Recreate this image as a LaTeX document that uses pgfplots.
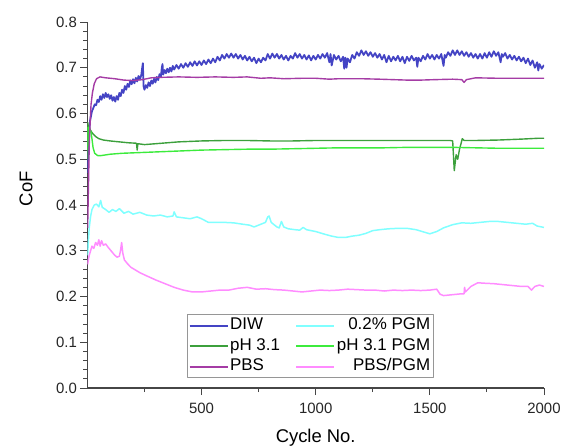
\documentclass[border=0pt]{standalone}
\usepackage{fontspec}
\setmainfont{Liberation Sans}
\usepackage{pgfplots}
\pgfplotsset{compat=1.18}

\definecolor{cdiw}{RGB}{68,68,196}
\definecolor{cph}{RGB}{60,160,60}
\definecolor{cpbs}{RGB}{165,60,165}
\definecolor{cpgm}{RGB}{128,255,255}
\definecolor{cphpgm}{RGB}{60,235,60}
\definecolor{cpbspgm}{RGB}{255,140,255}
\definecolor{axgray}{RGB}{70,70,70}
\definecolor{leggray}{RGB}{150,150,150}

% width of the widest right-hand legend text, to right-align that column
\newlength\rcw
\settowidth{\rcw}{\fontsize{17}{20}\selectfont pH 3.1 PGM}
\newcommand\rtext[1]{\makebox[\rcw][r]{#1}}

\begin{document}
\begin{tikzpicture}
\begin{axis}[
  name=ax,
  scale only axis,
  width=456.6bp, height=366bp,
  xmin=0, xmax=2000, ymin=0, ymax=0.8,
  axis lines*=left,
  axis line style={draw=axgray, line width=1.1pt},
  xtick={500,1000,1500,2000},
  minor xtick={250,750,1250,1750},
  ytick={0,0.1,0.2,0.3,0.4,0.5,0.6,0.7,0.8},
  minor y tick num=4,
  tick align=outside,
  major tick length=7bp,
  minor tick length=4bp,
  every tick/.style={draw=axgray, line width=0.9pt},
  /pgf/number format/assume math mode=true,
  /pgf/number format/1000 sep={},
  yticklabel style={/pgf/number format/fixed, /pgf/number format/fixed zerofill, /pgf/number format/precision=1},
  tick label style={font=\fontsize{15}{18}\selectfont, text=black!85},
  xticklabel style={yshift=-5bp},
  xlabel={Cycle No.},
  ylabel={CoF},
  every axis x label/.style={at={(axis description cs:0.5,-0.1495)}, anchor=base, font=\fontsize{18.5}{22}\selectfont},
  every axis y label/.style={at={(axis description cs:-0.1345,0.544)}, anchor=center, rotate=90, font=\fontsize{18.5}{22}\selectfont},
  legend columns=2,
  legend cell align=left,
  legend image code/.code={\draw[#1, line width=2pt] (0bp,0bp) -- (38bp,0bp);},
  legend style={
    at={(0.2175,0.028)}, anchor=south west,
    draw=leggray, line width=0.8pt, inner sep=1.5bp,
    font=\fontsize{17}{20}\selectfont,
    nodes={inner sep=1.5bp, text height=12bp, text depth=3.5bp},
    row sep=2bp,
    /tikz/every even column/.append style={column sep=14bp},
  },
  line join=round,
]
% DIW
\addplot[cdiw, line width=1.8pt] coordinates {
(2,0.47)(5,0.54)(8,0.565)(12,0.585)(16,0.595)(20,0.605)(26,0.612)(32,0.62)(38,0.618)(44,0.63)(50,0.625)(56,0.638)(62,0.63)(68,0.642)(74,0.634)(80,0.645)(86,0.636)(92,0.642)(98,0.632)(104,0.64)(110,0.628)(116,0.636)(122,0.626)(128,0.638)(134,0.63)(140,0.645)(146,0.638)(152,0.652)(158,0.645)(164,0.66)(170,0.652)(176,0.665)(182,0.658)(188,0.672)(194,0.664)(200,0.675)(206,0.666)(212,0.678)(218,0.67)(224,0.682)(230,0.674)(236,0.684)(240,0.70)(243,0.71)(246,0.66)(250,0.652)(256,0.662)(262,0.656)(268,0.668)(274,0.66)(280,0.672)(286,0.665)(292,0.676)(298,0.668)(304,0.68)(310,0.673)(316,0.686)(322,0.68)(326,0.70)(329,0.708)(332,0.685)(338,0.695)(344,0.688)(350,0.698)(356,0.69)(362,0.70)(368,0.692)(374,0.704)(380,0.696)(390,0.706)(400,0.698)(410,0.708)(420,0.70)(430,0.71)(440,0.702)(450,0.712)(460,0.704)(470,0.714)(480,0.705)(490,0.714)(500,0.706)(510,0.716)(520,0.708)(530,0.718)(540,0.71)(550,0.72)(560,0.712)(570,0.724)(580,0.716)(590,0.728)(600,0.72)(610,0.73)(620,0.722)(630,0.731)(640,0.722)(650,0.73)(660,0.72)(670,0.728)(680,0.718)(690,0.726)(700,0.716)(710,0.724)(720,0.714)(730,0.722)(740,0.71)(750,0.72)(760,0.712)(770,0.722)(780,0.716)(790,0.73)(800,0.72)(810,0.731)(820,0.722)(830,0.73)(840,0.72)(850,0.728)(860,0.718)(870,0.726)(880,0.716)(890,0.726)(900,0.72)(910,0.732)(920,0.722)(930,0.73)(940,0.72)(950,0.728)(960,0.718)(970,0.727)(980,0.716)(990,0.726)(1000,0.718)(1010,0.728)(1020,0.72)(1030,0.73)(1040,0.722)(1050,0.732)(1060,0.712)(1065,0.73)(1070,0.705)(1080,0.728)(1090,0.718)(1100,0.726)(1110,0.714)(1120,0.724)(1125,0.698)(1130,0.722)(1135,0.70)(1140,0.72)(1150,0.712)(1160,0.728)(1170,0.72)(1180,0.734)(1190,0.726)(1200,0.738)(1210,0.728)(1220,0.736)(1230,0.726)(1240,0.734)(1250,0.724)(1260,0.732)(1270,0.722)(1280,0.73)(1290,0.718)(1300,0.728)(1310,0.712)(1320,0.726)(1330,0.714)(1340,0.724)(1350,0.716)(1360,0.726)(1370,0.714)(1380,0.724)(1390,0.71)(1400,0.724)(1410,0.715)(1420,0.726)(1430,0.716)(1440,0.722)(1445,0.702)(1450,0.722)(1460,0.714)(1470,0.726)(1480,0.718)(1490,0.73)(1500,0.72)(1510,0.728)(1520,0.718)(1530,0.728)(1540,0.72)(1550,0.73)(1560,0.704)(1565,0.728)(1570,0.722)(1580,0.734)(1590,0.726)(1600,0.738)(1610,0.728)(1620,0.738)(1630,0.728)(1640,0.736)(1650,0.726)(1660,0.734)(1670,0.724)(1680,0.732)(1690,0.722)(1700,0.73)(1710,0.72)(1720,0.73)(1730,0.72)(1740,0.732)(1750,0.722)(1760,0.734)(1770,0.724)(1780,0.736)(1790,0.726)(1800,0.734)(1810,0.712)(1815,0.73)(1820,0.724)(1830,0.732)(1840,0.72)(1850,0.728)(1860,0.718)(1870,0.726)(1880,0.716)(1890,0.724)(1900,0.714)(1910,0.722)(1920,0.71)(1930,0.72)(1940,0.706)(1950,0.716)(1960,0.7)(1970,0.712)(1975,0.694)(1980,0.708)(1990,0.698)(2000,0.706)
};
\addlegendentry{DIW}
% 0.2% PGM
\addplot[cpgm, line width=1.5pt] coordinates {
(1,0.29)(4,0.32)(8,0.35)(14,0.375)(20,0.39)(30,0.40)(40,0.402)(50,0.396)(58,0.41)(65,0.395)(80,0.39)(95,0.384)(110,0.39)(125,0.386)(140,0.392)(160,0.382)(180,0.386)(200,0.38)(230,0.384)(260,0.378)(290,0.376)(320,0.378)(350,0.374)(375,0.376)(380,0.385)(390,0.374)(420,0.372)(450,0.37)(480,0.374)(500,0.37)(530,0.362)(560,0.362)(600,0.362)(640,0.361)(680,0.358)(710,0.356)(730,0.352)(750,0.356)(780,0.362)(790,0.374)(796,0.376)(805,0.362)(830,0.352)(840,0.35)(850,0.364)(860,0.352)(880,0.348)(910,0.346)(930,0.345)(945,0.351)(960,0.346)(1000,0.342)(1040,0.336)(1070,0.332)(1100,0.329)(1130,0.329)(1160,0.332)(1190,0.334)(1220,0.338)(1250,0.344)(1280,0.346)(1320,0.348)(1360,0.349)(1400,0.349)(1440,0.346)(1480,0.34)(1500,0.337)(1530,0.342)(1560,0.35)(1600,0.357)(1640,0.361)(1680,0.36)(1720,0.362)(1760,0.364)(1800,0.364)(1840,0.362)(1880,0.36)(1920,0.358)(1950,0.36)(1970,0.354)(2000,0.351)
};
\addlegendentry{\rtext{0.2\% PGM}}
% pH 3.1
\addplot[cph, line width=1.4pt] coordinates {
(1,0.50)(2,0.58)(3,0.53)(4,0.575)(6,0.545)(8,0.57)(12,0.565)(18,0.56)(25,0.555)(35,0.55)(50,0.545)(70,0.542)(100,0.54)(140,0.538)(180,0.536)(215,0.535)(218,0.52)(221,0.534)(250,0.532)(300,0.534)(350,0.536)(400,0.538)(450,0.539)(500,0.54)(600,0.541)(700,0.541)(800,0.54)(900,0.54)(1000,0.541)(1100,0.541)(1200,0.541)(1300,0.541)(1400,0.541)(1500,0.541)(1590,0.541)(1600,0.540)(1607,0.475)(1615,0.51)(1622,0.50)(1630,0.522)(1637,0.535)(1642,0.545)(1650,0.541)(1700,0.541)(1800,0.542)(1900,0.544)(1980,0.546)(2000,0.546)
};
\addlegendentry{pH 3.1}
% pH 3.1 PGM
\addplot[cphpgm, line width=1.4pt] coordinates {
(1,0.52)(3,0.57)(5,0.57)(10,0.565)(15,0.56)(20,0.545)(25,0.525)(32,0.513)(45,0.508)(60,0.508)(100,0.511)(150,0.513)(200,0.514)(250,0.515)(300,0.516)(400,0.518)(500,0.52)(600,0.521)(700,0.522)(800,0.522)(900,0.523)(1000,0.524)(1100,0.525)(1200,0.525)(1300,0.525)(1400,0.526)(1500,0.526)(1600,0.526)(1700,0.525)(1800,0.524)(1900,0.524)(2000,0.524)
};
\addlegendentry{\rtext{pH 3.1 PGM}}
% PBS
\addplot[cpbs, line width=1.4pt] coordinates {
(1,0.35)(5,0.45)(8,0.53)(12,0.58)(16,0.62)(22,0.645)(30,0.665)(40,0.676)(55,0.680)(80,0.678)(120,0.676)(160,0.673)(200,0.672)(240,0.674)(280,0.678)(320,0.679)(400,0.680)(480,0.679)(560,0.680)(640,0.679)(700,0.680)(760,0.677)(800,0.678)(860,0.676)(940,0.677)(1000,0.677)(1060,0.675)(1100,0.676)(1200,0.676)(1280,0.675)(1340,0.674)(1400,0.673)(1460,0.673)(1520,0.674)(1600,0.675)(1640,0.674)(1650,0.668)(1660,0.674)(1700,0.678)(1800,0.677)(1900,0.677)(2000,0.677)
};
\addlegendentry{PBS}
% PBS/PGM
\addplot[cpbspgm, line width=1.5pt] coordinates {
(1,0.27)(4,0.28)(8,0.29)(14,0.30)(20,0.31)(28,0.305)(36,0.318)(44,0.312)(50,0.324)(56,0.31)(62,0.322)(70,0.312)(80,0.315)(90,0.308)(100,0.302)(110,0.296)(120,0.29)(130,0.286)(140,0.288)(145,0.30)(150,0.318)(155,0.295)(162,0.28)(175,0.272)(190,0.264)(210,0.258)(230,0.252)(260,0.245)(300,0.236)(340,0.228)(380,0.22)(420,0.214)(460,0.21)(500,0.21)(540,0.212)(580,0.214)(620,0.214)(660,0.218)(700,0.22)(740,0.216)(780,0.217)(820,0.215)(860,0.214)(900,0.212)(940,0.21)(980,0.212)(1020,0.214)(1060,0.213)(1100,0.214)(1140,0.216)(1180,0.215)(1220,0.214)(1260,0.214)(1300,0.212)(1340,0.214)(1380,0.213)(1420,0.214)(1460,0.213)(1500,0.214)(1530,0.216)(1545,0.205)(1560,0.202)(1600,0.204)(1640,0.206)(1650,0.206)(1652,0.22)(1656,0.21)(1680,0.222)(1710,0.23)(1740,0.229)(1780,0.228)(1820,0.226)(1860,0.224)(1900,0.222)(1930,0.222)(1945,0.214)(1960,0.222)(1980,0.225)(2000,0.222)
};
\addlegendentry{\rtext{PBS/PGM}}
\end{axis}
\pgfresetboundingbox
\path[use as bounding box] ([xshift=-87.4bp,yshift=-58bp]ax.south west) rectangle ([xshift=23bp,yshift=22bp]ax.north east);
\end{tikzpicture}
\end{document}
